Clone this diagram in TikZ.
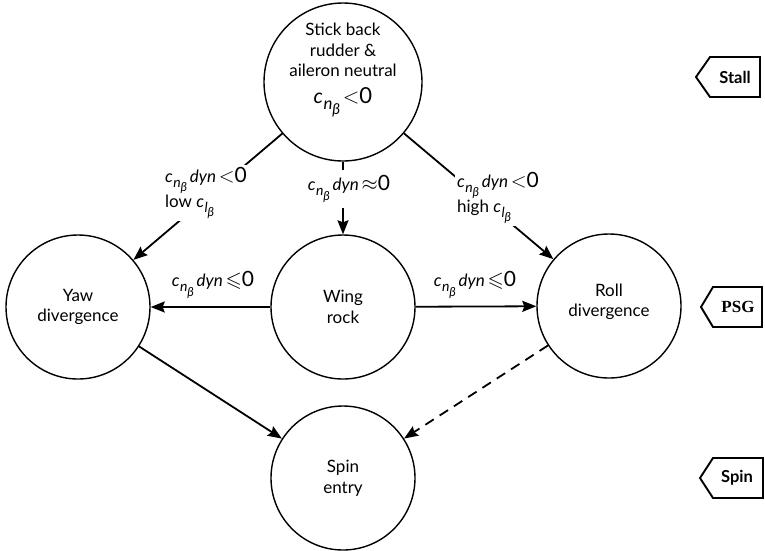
\documentclass[tikz,border=0pt]{standalone}
\usepackage{fontspec}
\usepackage{amssymb}
\setmainfont{Lato}
\newfontfamily\tagserif{Liberation Serif}
\usetikzlibrary{arrows.meta}

% c with a two-level subscript (#1 followed by beta)
\newcommand{\csub}[1]{{\itshape c\kern0.5pt\raisebox{-0.3em}{\fontsize{14}{14}\selectfont #1\kern-0.2pt\raisebox{-0.3em}{\fontsize{12.5}{12.5}\selectfont β}}}}
\newcommand{\rel}[1]{{\fontsize{21}{21}\selectfont$#1$0}}

\begin{document}
\begin{tikzpicture}[x=1pt,y=-1pt,
  every node/.style={font=\fontsize{17}{20.5}\selectfont},
  state/.style={circle,draw,line width=1.4pt,minimum size=144pt,inner sep=0pt,align=center},
  bigstate/.style={state,minimum size=158pt},
  txt/.style={align=center,inner sep=0pt},
  conn/.style={line width=1.8pt,-{Stealth[length=14pt,width=11pt,inset=2pt]}},
  dashconn/.style={conn,dash pattern=on 10pt off 7pt},
  lab/.style={align=left,inner sep=2pt,font=\fontsize{17}{23}\selectfont},
  tagline/.style={line width=1.9pt,line join=miter},
  tagtxt/.style={inner sep=0pt,font=\fontsize{16.5}{16.5}\selectfont\bfseries}
]
\useasboundingbox (0,0) rectangle (765,550);

% states
\node[bigstate] (top) at (343,82) {};
\node[txt] (toptext) at (343,70) {Stick back\\rudder \&\\aileron neutral\\[6pt]
  \scalebox{1.2}{\csub{n}}\,\scalebox{1.05}{\rel{<}}};
\node[state] (yaw) at (78,307) {Yaw\\divergence};
\node[state] (wing) at (343,307) {Wing\\rock};
\node[state] (roll) at (609,306) {};
\node[txt] (rolltext) at (609,302) {Roll\\divergence};
\node[state] (spin) at (343,478) {Spin\\entry};

% transitions
\draw[conn] (top) -- (yaw);
\draw[conn] (top) -- (wing);
\draw[conn] (top) -- (roll);
\draw[conn] (wing) -- (yaw);
\draw[conn] (wing) -- (roll);
\draw[conn] (yaw) -- (spin);
\draw[dashconn] (roll) -- (spin);

% transition conditions
\node[lab,fill=white] (condyaw) at (206,193)
  {\csub{n}\,\textit{dyn}\,\rel{<}\\low \csub{l}};
\node[lab,fill=white,inner ysep=6pt] (condwing) at (349,189)
  {\csub{n}\,\textit{dyn}\,\rel{\approx}};
\node[lab,fill=white] (condroll) at (498,198)
  {\csub{n}\,\textit{dyn}\,\rel{<}\\high \csub{l}};
\node[lab] (condleft) at (213,285) {\csub{n}\,\textit{dyn}\,\rel{\leqslant}};
\node[lab] (condright) at (475,285) {\csub{n}\,\textit{dyn}\,\rel{\leqslant}};

% phase tags
\draw[tagline] (696,77) -- (710,57) -- (760,57) -- (760,97) -- (710,97) -- cycle;
\node[tagtxt] (stall) at (735,77) {Stall};
\draw[tagline] (701,307) -- (713,287) -- (762,287) -- (762,327) -- (713,327) -- cycle;
\node[tagtxt,font=\fontsize{17}{17}\selectfont\tagserif\bfseries] (psg) at (738,307) {PSG};
\draw[tagline] (700,478) -- (713,458) -- (763,458) -- (763,498) -- (713,498) -- cycle;
\node[tagtxt] (spintag) at (737,478) {Spin};
\end{tikzpicture}
\end{document}
